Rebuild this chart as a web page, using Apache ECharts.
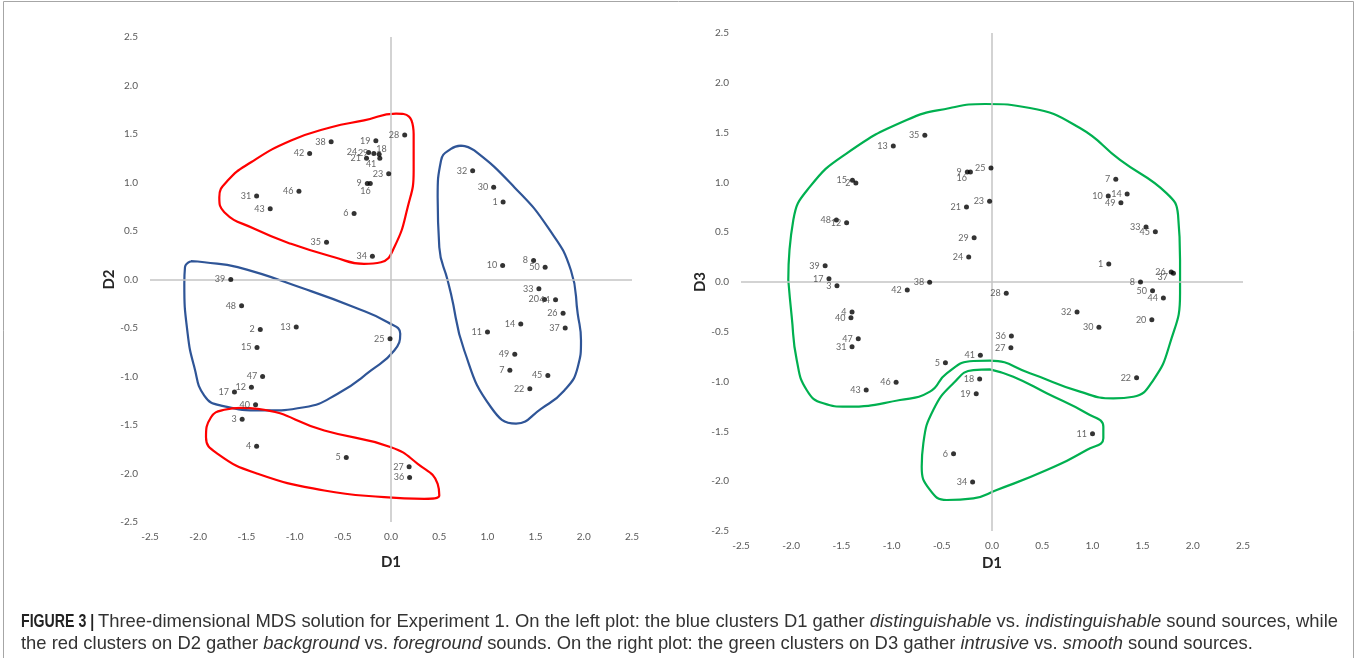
<!DOCTYPE html>
<html>
<head>
<meta charset="utf-8">
<script src="https://cdn.jsdelivr.net/npm/echarts@6/dist/echarts.min.js"></script>
<style>
html,body{margin:0;padding:0;background:#fff;}
#chart{width:1357px;height:658px;}
</style>
</head>
<body>
<div id="chart"></div>
<script>
// ---- data ----
const pointIds = ['1','2','3','4','5','6','7','8','9','10','11','12','13','14','15','16','17','18','19','20',
  '21','22','23','24','25','26','27','28','29','30','31','32','33','34','35','36','37','38','39','40',
  '41','42','43','44','45','46','47','48','49','50'];
const d1 = [1.163,-1.356,-1.544,-1.394,-0.464,-0.383,1.233,1.479,-0.246,1.158,
  1.001,-1.448,-0.983,1.346,-1.390,-0.215,-1.624,-0.123,-0.157,1.592,
  -0.254,1.440,-0.024,-0.232,-0.010,1.785,0.188,0.142,-0.178,1.065,
  -1.394,0.847,1.534,-0.193,-0.669,0.193,1.807,-0.621,-1.662,-1.405,
  -0.116,-0.844,-1.253,1.707,1.627,-0.955,-1.332,-1.550,1.284,1.599];
const d2 = [0.80,-0.515,-1.44,-1.72,-1.835,0.68,-0.935,0.196,0.99,0.144,
  -0.54,-1.11,-0.49,-0.46,-0.70,0.99,-1.16,1.29,1.43,-0.206,
  1.25,-1.127,1.09,1.31,-0.61,-0.347,-1.93,1.49,1.30,0.95,
  0.86,1.12,-0.096,0.24,0.385,-2.04,-0.50,1.42,0.0,-1.29,
  1.25,1.30,0.73,-0.21,-0.99,0.91,-1.0,-0.27,-0.77,0.127];
const d3 = [0.181,0.994,-0.037,-0.301,-0.81,-1.724,1.031,0.0,1.104,0.863,
  -1.523,0.595,1.365,0.884,1.021,1.104,0.033,-0.974,-1.121,-0.378,
  0.753,-0.961,0.81,0.251,1.145,0.10,-0.66,-0.114,0.445,-0.455,
  -0.65,-0.301,0.552,-2.008,1.473,-0.542,0.087,-0.003,0.164,-0.358,
  -0.736,-0.08,-1.084,-0.161,0.505,-1.007,-0.569,0.622,0.796,-0.087];
const tickLabels = ['-2.5','-2.0','-1.5','-1.0','-0.5','0.0','0.5','1.0','1.5','2.0','2.5'];

// cluster outlines (data coordinates)
const redTop = [[0.235,1.50],[0.235,1.12],[0.173,0.745],[0.034,0.333],[-0.104,0.178],[-0.28,0.162],[-0.588,0.23],
  [-1.037,0.368],[-1.418,0.523],[-1.729,0.694],[-1.781,0.848],[-1.694,1.02],[-1.452,1.209],[-1.037,1.433],
  [-0.622,1.57],[-0.28,1.64],[0.052,1.71],[0.187,1.68],[0.235,1.50]];
const blueLeft = [[-2.075,0.189],[-1.937,0.178],[-1.59,0.127],[-0.9,-0.096],[-0.381,-0.286],[-0.034,-0.44],
  [0.096,-0.56],[0.034,-0.732],[-0.207,-0.938],[-0.553,-1.178],[-0.9,-1.317],[-1.314,-1.35],[-1.763,-1.30],
  [-1.937,-1.196],[-2.04,-0.904],[-2.109,-0.56],[-2.144,-0.044],[-2.137,0.127],[-2.075,0.189]];
const redBottom = [[-1.556,-1.323],[-1.383,-1.333],[-0.692,-1.557],[0,-1.729],[0.277,-1.90],[0.484,-2.106],
  [0.501,-2.227],[0.345,-2.261],[-0.07,-2.244],[-0.692,-2.175],[-1.383,-2.003],[-1.798,-1.797],[-1.919,-1.626],
  [-1.867,-1.42],[-1.729,-1.343],[-1.556,-1.323]];
const blueRight = [[0.726,1.381],[0.864,1.33],[1.279,0.952],[1.626,0.539],[1.867,0.093],[1.937,-0.354],
  [1.971,-0.629],[1.937,-0.904],[1.798,-1.144],[1.556,-1.333],[1.297,-1.485],[1.037,-1.317],[0.76,-0.732],
  [0.622,-0.147],[0.588,-0.01],[0.501,0.333],[0.484,0.848],[0.519,1.227],[0.622,1.347],[0.726,1.381]];
const greenBig = [[-2.029,0.02],[-1.979,0.622],[-1.813,0.957],[-1.447,1.292],[-0.85,1.627],[-0.418,1.747],
  [-0.07,1.787],[0.378,1.747],[0.876,1.546],[1.275,1.225],[1.74,0.89],[1.853,0.673],[1.873,0.221],
  [1.873,-0.113],[1.773,-0.615],[1.607,-0.984],[1.408,-1.152],[1.208,-1.168],[0.876,-1.101],[0.378,-0.917],
  [-0.02,-0.79],[-0.186,-0.793],[-0.451,-0.917],[-0.618,-1.101],[-0.916,-1.185],[-1.447,-1.252],
  [-1.68,-1.218],[-1.846,-1.084],[-1.945,-0.783],[-1.995,-0.348],[-2.029,0.02]];
const greenSmall = [[-0.02,-0.877],[-0.186,-0.884],[-0.385,-1.017],[-0.585,-1.285],[-0.684,-1.62],[-0.70,-1.854],
  [-0.618,-2.088],[-0.451,-2.189],[-0.186,-2.172],[0.047,-2.088],[0.545,-1.888],[0.943,-1.687],[1.109,-1.569],
  [1.109,-1.453],[0.943,-1.318],[0.545,-1.117],[0.212,-0.951],[-0.02,-0.877]];

// ---- style helpers ----
const labelNudgeLeft = {'18':[13,-5],'41':[2,6],'16':[6,8],'24':[-6,0]};
const labelNudgeRight = {'16':[2,6],'37':[0,4]};
const tickFont = 'Lato, "Open Sans", sans-serif';
const capFont = '"Liberation Sans", Arial, sans-serif';
const capSize = 18.4;

function pts(ys, nudge) {
  return pointIds.map((id, i) => {
    const o = {name: id, value: [d1[i], ys[i]]};
    if (nudge[id]) o.label = {offset: nudge[id]};
    return o;
  });
}
function xAx(gi, gap) {
  return {gridIndex: gi, type: 'value', min: -2.5, max: 2.5, interval: 0.5,
    axisLine: {show: false, onZero: false}, axisTick: {show: false}, splitLine: {show: false},
    axisLabel: {formatter: (v) => tickLabels[Math.round((v + 2.5) / 0.5)], fontSize: 10, color: '#595959', fontFamily: tickFont, margin: 10},
    name: 'D1', nameLocation: 'middle', nameGap: gap,
    nameTextStyle: {fontWeight: 'bold', fontSize: 15, color: '#262626', fontFamily: tickFont}};
}
function yAx(gi, name, gap) {
  return {gridIndex: gi, type: 'value', min: -2.5, max: 2.5, interval: 0.5,
    axisLine: {show: false, onZero: false}, axisTick: {show: false}, splitLine: {show: false},
    axisLabel: {formatter: (v) => tickLabels[Math.round((v + 2.5) / 0.5)], fontSize: 10, color: '#595959', fontFamily: tickFont, margin: 12},
    name: name, nameLocation: 'middle', nameGap: gap, nameRotate: 90,
    nameTextStyle: {fontWeight: 'bold', fontSize: 15, color: '#262626', fontFamily: tickFont}};
}
function scatter(gi, data) {
  return {type: 'scatter', xAxisIndex: gi, yAxisIndex: gi, data: data, symbolSize: 5,
    itemStyle: {color: '#000'}, z: 5,
    label: {show: true, position: 'left', distance: 3, formatter: (p) => p.name,
      fontSize: 9, color: '#404040', fontFamily: tickFont},
    markLine: {silent: true, symbol: 'none', label: {show: false},
      lineStyle: {color: '#c4c4c4', type: 'solid', width: 1.5},
      data: [{xAxis: 0}, {yAxis: 0}]}};
}
function outline(gi, data, color) {
  return {type: 'line', xAxisIndex: gi, yAxisIndex: gi, data: data, smooth: 0.5,
    symbol: 'none', lineStyle: {color: color, width: 2.2}, z: 3};
}

const chart = echarts.init(document.getElementById('chart'));
chart.setOption({
  animation: false,
  backgroundColor: '#fff',
  grid: [
    {left: 150, top: 37, width: 482, height: 485},
    {left: 741, top: 33, width: 502, height: 498}
  ],
  xAxis: [xAx(0, 33), xAx(1, 25)],
  yAxis: [yAx(0, 'D2', 33), yAx(1, 'D3', 30)],
  series: [
    outline(0, redTop, '#ff0000'),
    outline(0, blueLeft, '#2f5597'),
    outline(0, redBottom, '#ff0000'),
    outline(0, blueRight, '#2f5597'),
    outline(1, greenBig, '#00b050'),
    outline(1, greenSmall, '#00b050'),
    scatter(0, pts(d2, labelNudgeLeft)),
    scatter(1, pts(d3, labelNudgeRight))
  ],
  graphic: [
    {type: 'rect', shape: {x: 3.5, y: 1.5, width: 1350, height: 720},
      style: {fill: null, stroke: '#a6a6a6', lineWidth: 1}, silent: true},
    {type: 'text', x: 21, y: 613, scaleX: 0.77, silent: true,
      style: {text: 'FIGURE 3 |', fontSize: capSize, fontWeight: 'bold', fontFamily: capFont,
        fill: '#222', verticalAlign: 'top'}},
    {type: 'text', x: 98, y: 613, silent: true,
      style: {
        text: 'Three-dimensional MDS solution for Experiment 1. On the left plot: the blue clusters D1 gather {i|distinguishable} vs. {i|indistinguishable} sound sources, while',
        fontSize: capSize, fontFamily: capFont, fill: '#333', verticalAlign: 'top',
        rich: {
          i: {fontStyle: 'italic', fontSize: capSize, fontFamily: capFont, fill: '#333'}
        }
      }},
    {type: 'text', x: 21, y: 635, silent: true,
      style: {
        text: 'the red clusters on D2 gather {i|background} vs. {i|foreground} sounds. On the right plot: the green clusters on D3 gather {i|intrusive} vs. {i|smooth} sound sources.',
        fontSize: capSize, fontFamily: capFont, fill: '#333', verticalAlign: 'top',
        rich: {
          i: {fontStyle: 'italic', fontSize: capSize, fontFamily: capFont, fill: '#333'}
        }
      }}
  ]
});
</script>
</body>
</html>
